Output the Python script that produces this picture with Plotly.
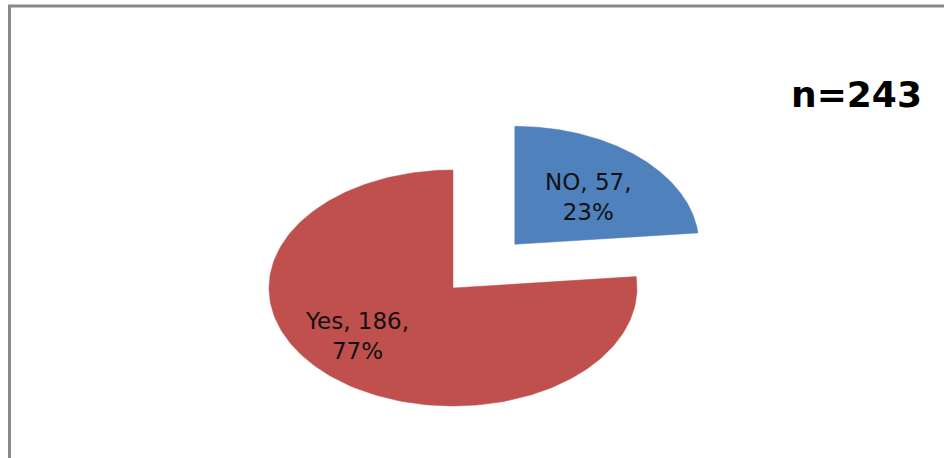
import math
import plotly.graph_objects as go

labels = ["NO", "Yes"]
values = [57, 186]
colors = ["#4F81BD", "#C0504D"]
pulls = [0.5, 0.0]
total_label = "n=243"

total = sum(values)
fig = go.Figure()

# pixel-based geometry for the (horizontally stretched) pie
W, H = 945, 458
cx_px, cy_px = 453, 288
rx_px, ry_px = 184, 118

start = 0.0
mids = []
offsets = []
for lab, v, col, p in zip(labels, values, colors, pulls):
    span = 360.0 * v / total
    mid = start + span / 2
    mids.append(mid)
    ox = p * math.sin(math.radians(mid))
    oy = p * math.cos(math.radians(mid))
    offsets.append((ox, oy))
    n = 200
    xs = [ox]
    ys = [oy]
    for i in range(n + 1):
        t = math.radians(start + span * i / n)
        xs.append(ox + math.sin(t))
        ys.append(oy + math.cos(t))
    xs.append(ox)
    ys.append(oy)
    fig.add_trace(go.Scatter(x=xs, y=ys, mode="lines", fill="toself",
                             fillcolor=col, line=dict(color=col, width=0.5),
                             hoverinfo="skip", showlegend=False))
    start += span

# data labels (angle clockwise from 12 o'clock, radius fraction)
label_pos = [(45.0, 0.567), (232.0, 0.66)]
for i, (lab, v) in enumerate(zip(labels, values)):
    pct = round(100 * v / total)
    ang, r = label_pos[i]
    ox, oy = offsets[i]
    fig.add_annotation(x=ox + r * math.sin(math.radians(ang)),
                       y=oy + r * math.cos(math.radians(ang)),
                       text=f"{lab}, {v},<br>{pct}%", showarrow=False,
                       xanchor="center", yanchor="middle",
                       font=dict(family="DejaVu Sans", size=23, color="#111111"),
                       align="center")

fig.add_annotation(xref="paper", yref="paper", x=856 / W, y=1 - 95 / H,
                   xanchor="center", yanchor="middle",
                   text=f"<b>{total_label}</b>", showarrow=False,
                   font=dict(family="DejaVu Sans", size=36, color="#000000"))

# frame lines (left and top)
fig.add_shape(type="line", xref="paper", yref="paper", x0=9.5 / W, x1=9.5 / W,
              y0=0, y1=1 - 6 / H, line=dict(color="#888888", width=3))
fig.add_shape(type="line", xref="paper", yref="paper", x0=8 / W, x1=944 / W,
              y0=1 - 6 / H, y1=1 - 6 / H, line=dict(color="#888888", width=3))

fig.update_layout(
    width=W, height=H, margin=dict(l=0, r=0, t=0, b=0),
    paper_bgcolor="white", plot_bgcolor="white",
    xaxis=dict(range=[-cx_px / rx_px, (W - cx_px) / rx_px], visible=False, fixedrange=True),
    yaxis=dict(range=[-(H - cy_px) / ry_px, cy_px / ry_px], visible=False, fixedrange=True),
)
fig.write_html("out.html")
